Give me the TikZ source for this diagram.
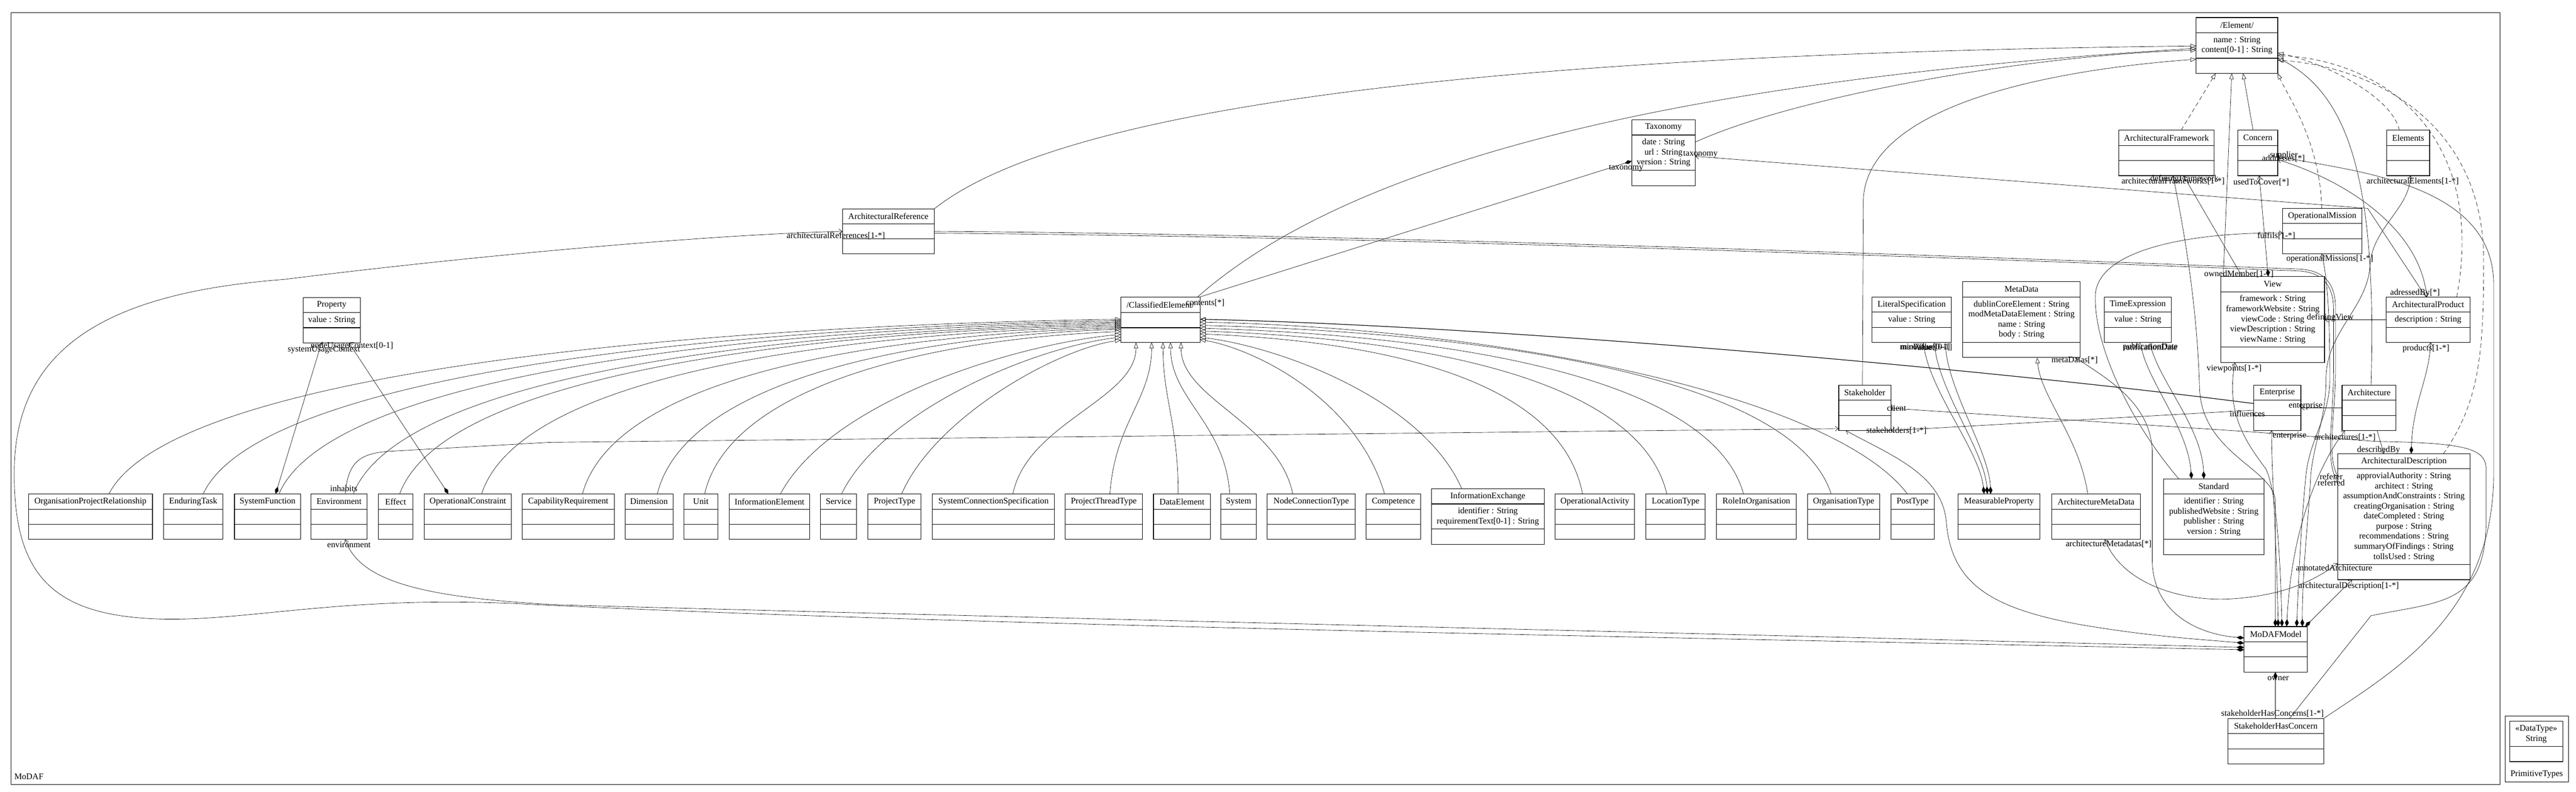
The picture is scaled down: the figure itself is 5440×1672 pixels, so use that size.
\documentclass[tikz,border=0pt]{standalone}
\usepackage{fontspec}
\setmainfont{Liberation Serif}
\usetikzlibrary{arrows.meta,calc,backgrounds}
\newcommand\clsfont{\fontsize{18.15}{21.3}\selectfont}
\tikzset{
  clsbox/.style={draw, fill=white, line width=1.2pt, inner sep=0pt, outer sep=0pt},
  cline/.style={line width=1.2pt},
  ctext/.style={font=\clsfont, inner sep=0pt, align=center},
  lbl/.style={font=\clsfont, inner sep=0pt},
  conn/.style={draw, line width=0.7pt},
  gen/.style={conn, -{Triangle[open, length=12pt, width=9pt]}},
  gend/.style={gen, dash pattern=on 9pt off 6pt},
  comp/.style={conn, {Diamond[length=16pt, width=8pt]}-},
  compnav/.style={conn, {Diamond[length=16pt, width=8pt]}-{Straight Barb[length=7pt, width=10pt]}},
  nav/.style={conn, -{Straight Barb[length=7pt, width=10pt]}},
  bnav/.style={conn, {Straight Barb[length=7pt, width=10pt]}-{Straight Barb[length=7pt, width=10pt]}},
}
\newcommand\umlclass[9]{%
  \pgfmathsetmacro\cw{#3-#2}\pgfmathsetmacro\ch{#7-#4}%
  \node[clsbox, anchor=north west, minimum width=\cw pt, minimum height=\ch pt] (#1) at (#2,#4) {};
  \draw[cline] (#2,#5) -- (#3,#5);
  \draw[cline] (#2,#6) -- (#3,#6);
  \node[ctext] (#1-t) at ({(#2+#3)/2},{(#4+#5)/2}) {#8};
  \node[ctext] (#1-a) at ({(#2+#3)/2},{(#5+#6)/2}) {#9};
}
\begin{document}
\begin{tikzpicture}[x=1pt,y=-1pt]
\useasboundingbox (0,0) rectangle (5440,1672);
\node[draw, line width=1.2pt, anchor=north west, minimum width=5256pt, minimum height=1629pt, inner sep=0pt, outer sep=0pt] (frame) at (23,27) {};
\node[lbl, anchor=west] (mlab) at (30,1640) {MoDAF};

% ---------- classes ----------
\umlclass{El}{4638}{4810}{37}{69}{123}{155}{/Element/}{name : String\\content[0-1] : String}
\umlclass{Tax}{3446}{3580}{253}{285}{360}{392}{Taxonomy}{date : String\\url : String\\version : String}
\umlclass{AF}{4474}{4676}{275}{307}{339}{371}{ArchitecturalFramework}{}
\umlclass{Con}{4726}{4810}{275}{307}{339}{371}{Concern}{}
\umlclass{Els}{5040}{5131}{275}{307}{339}{371}{Elements}{}
\umlclass{OM}{4820}{4988}{440}{472}{504}{536}{OperationalMission}{}
\umlclass{AR}{1779}{1973}{441}{473}{504}{536}{ArchitecturalReference}{}
\umlclass{View}{4690}{4909}{584}{616}{733}{765}{View}{framework : String\\frameworkWebsite : String\\viewCode : String\\viewDescription : String\\viewName : String}
\umlclass{MD}{4145}{4393}{595}{627}{723}{755}{MetaData}{dublinCoreElement : String\\modMetaDataElement : String\\name : String\\body : String}
\umlclass{LS}{3953}{4121}{627}{659}{691}{723}{LiteralSpecification}{value : String}
\umlclass{TE}{4444}{4585}{627}{659}{691}{723}{TimeExpression}{value : String}
\umlclass{AP}{5039}{5216}{627}{659}{691}{723}{ArchitecturalProduct}{description : String}
\umlclass{Prop}{640}{761}{628}{660}{692}{724}{Property}{value : String}
\umlclass{CE}{2367}{2534}{627}{660}{692}{723}{/ClassifiedElement/}{}
\umlclass{SH}{3883}{3993}{813}{845}{877}{909}{Stakeholder}{}
\umlclass{Ent}{4759}{4859}{813}{845}{877}{909}{Enterprise}{}
\umlclass{Arch}{4946}{5060}{813}{845}{877}{909}{Architecture}{}
\umlclass{AD}{4937}{5216}{958}{990}{1192}{1224}{ArchitecturalDescription}{approvialAuthority : String\\architect : String\\assumptionAndConstraints : String\\creatingOrganisation : String\\dateCompleted : String\\purpose : String\\recommendations : String\\summaryOfFindings : String\\tollsUsed : String}
\umlclass{Std}{4569}{4781}{1011}{1043}{1139}{1171}{Standard}{identifier : String\\publishedWebsite : String\\publisher : String\\version : String}
\umlclass{IX}{3023}{3261}{1032}{1064}{1117}{1149}{InformationExchange}{identifier : String\\requirementText[0-1] : String}
\umlclass{OPR}{60}{322}{1043}{1075}{1107}{1139}{OrganisationProjectRelationship}{}
\umlclass{ET}{345}{471}{1043}{1075}{1107}{1139}{EnduringTask}{}
\umlclass{SF}{495}{635}{1043}{1075}{1107}{1139}{SystemFunction}{}
\umlclass{Env}{657}{775}{1043}{1075}{1107}{1139}{Environment}{}
\umlclass{Eff}{799}{872}{1043}{1075}{1107}{1139}{Effect}{}
\umlclass{OC}{896}{1080}{1043}{1075}{1107}{1139}{OperationalConstraint}{}
\umlclass{CR}{1103}{1297}{1043}{1075}{1107}{1139}{CapabilityRequirement}{}
\umlclass{Dim}{1320}{1421}{1043}{1075}{1107}{1139}{Dimension}{}
\umlclass{Unit}{1444}{1516}{1043}{1075}{1107}{1139}{Unit}{}
\umlclass{IE}{1540}{1710}{1043}{1075}{1107}{1139}{InformationElement}{}
\umlclass{Svc}{1733}{1809}{1043}{1075}{1107}{1139}{Service}{}
\umlclass{PT}{1833}{1945}{1043}{1075}{1107}{1139}{ProjectType}{}
\umlclass{SCS}{1969}{2227}{1043}{1075}{1107}{1139}{SystemConnectionSpecification}{}
\umlclass{PTT}{2249}{2413}{1043}{1075}{1107}{1139}{ProjectThreadType}{}
\umlclass{DE}{2436}{2556}{1043}{1075}{1107}{1139}{DataElement}{}
\umlclass{Sys}{2578}{2653}{1043}{1075}{1107}{1139}{System}{}
\umlclass{NCT}{2676}{2862}{1043}{1075}{1107}{1139}{NodeConnectionType}{}
\umlclass{Comp}{2885}{3000}{1043}{1075}{1107}{1139}{Competence}{}
\umlclass{OA}{3284}{3452}{1043}{1075}{1107}{1139}{OperationalActivity}{}
\umlclass{LT}{3476}{3601}{1043}{1075}{1107}{1139}{LocationType}{}
\umlclass{RIO}{3625}{3793}{1043}{1075}{1107}{1139}{RoleInOrganisation}{}
\umlclass{OT}{3817}{3970}{1043}{1075}{1107}{1139}{OrganisationType}{}
\umlclass{Post}{3993}{4085}{1043}{1075}{1107}{1139}{PostType}{}
\umlclass{MP}{4135}{4308}{1043}{1075}{1107}{1139}{MeasurableProperty}{}
\umlclass{AMD}{4333}{4520}{1043}{1075}{1107}{1139}{ArchitectureMetaData}{}
\umlclass{MoD}{4739}{4873}{1323}{1355}{1387}{1419}{MoDAFModel}{}
\umlclass{SHC}{4705}{4907}{1517}{1549}{1581}{1613}{StakeholderHasConcern}{}

% PrimitiveTypes package
\node[clsbox, anchor=north west, minimum width=134pt, minimum height=139pt] (pkg) at (5290,1512) {};
\node[clsbox, anchor=north west, minimum width=112pt, minimum height=85pt] (str) at (5300,1523) {};
\draw[cline] (5300,1576) -- (5412,1576);
\node[ctext] (str-t) at (5356,1550) {«DataType»\\String};
\node[lbl] (pkg-t) at (5357,1635) {PrimitiveTypes};

% ---------- connectors ----------
\begin{pgfonlayer}{background}
% generalizations to ClassifiedElement (left side)
\draw[gen] ($(OPR.north west)+(170,0)$) .. controls +(128,-250) and +(-962,15) .. ($(CE.north west)+(0,47)$);
\draw[gen] ($(ET.north west)+(84,0)$) .. controls +(116,-250) and +(-872,15) .. ($(CE.north west)+(0,50)$);
\draw[gen] ($(SF.north west)+(94,0)$) .. controls +(107,-250) and +(-800,15) .. ($(CE.north west)+(0,53)$);
\draw[gen] ($(Env.north west)+(89,0)$) .. controls +(97,-250) and +(-729,15) .. ($(CE.north west)+(0,56)$);
\draw[gen] ($(Eff.north west)+(45,0)$) .. controls +(91,-250) and +(-685,15) .. ($(CE.north west)+(0,59)$);
\draw[gen] ($(OC.north west)+(121,0)$) .. controls +(81,-250) and +(-608,15) .. ($(CE.north west)+(0,62)$);
\draw[gen] ($(CR.north west)+(127,0)$) .. controls +(68,-250) and +(-512,15) .. ($(CE.north west)+(0,65)$);
\draw[gen] ($(Dim.north west)+(68,0)$) .. controls +(59,-240) and +(-440,15) .. ($(CE.north west)+(0,68)$);
\draw[gen] ($(Unit.north west)+(44,0)$) .. controls +(53,-230) and +(-396,15) .. ($(CE.north west)+(0,73)$);
\draw[gen] ($(IE.north west)+(108,0)$) .. controls +(108,-200) and +(-216,20) .. ($(CE.north west)+(0,79)$);
\draw[gen] ($(Svc.north west)+(44,0)$) .. controls +(89,-180) and +(-177,20) .. ($(CE.north west)+(0,85)$);
\draw[gen] ($(PT.north west)+(71,0)$) .. controls +(69,-160) and +(-139,20) .. ($(CE.north west)+(0,91)$);
% bottom
\draw[gen] ($(SCS.north west)+(170,0)$) .. controls +(30,-150) and +(0,120) .. ($(CE.south west)+(32,0)$);
\draw[gen] ($(PTT.north west)+(95,0)$) .. controls +(10,-150) and +(0,120) .. ($(CE.south west)+(65,0)$);
\draw[gen] ($(DE.north west)+(52,0)$) .. controls +(0,-150) and +(0,120) .. ($(CE.south west)+(89,0)$);
\draw[gen] ($(Sys.north west)+(19,0)$) .. controls +(-10,-150) and +(0,120) .. ($(CE.south west)+(105,0)$);
\draw[gen] ($(NCT.north west)+(54,0)$) .. controls +(-30,-150) and +(0,120) .. ($(CE.south west)+(127,0)$);
% right side
\draw[gen] ($(Comp.north west)+(39,0)$) .. controls +(-59,-200) and +(117,20) .. ($(CE.north east)+(0,90)$);
\draw[gen] ($(IX.north west)+(64,0)$) .. controls +(-83,-190) and +(166,20) .. ($(CE.north east)+(0,85)$);
\draw[gen] ($(OA.north west)+(58,0)$) .. controls +(-48,-250) and +(364,15) .. ($(CE.north east)+(0,78)$);
\draw[gen] ($(LT.north west)+(44,0)$) .. controls +(-59,-250) and +(444,15) .. ($(CE.north east)+(0,72)$);
\draw[gen] ($(RIO.north west)+(57,0)$) .. controls +(-69,-250) and +(517,15) .. ($(CE.north east)+(0,66)$);
\draw[gen] ($(OT.north west)+(50,0)$) .. controls +(-80,-250) and +(600,15) .. ($(CE.north east)+(0,60)$);
\draw[gen] ($(Post.north west)+(35,0)$) .. controls +(-150,-200) and +(672,15) .. ($(CE.north east)+(0,53)$);
\draw[gen, line width=1.3pt] ($(Ent.north west)+(0,39)$) .. controls (4200,780) and (3200,690) .. ($(CE.north east)+(0,47)$);

% generalizations to Element
\draw[gen] (AR.north east) .. controls (2300,180) and (3500,110) .. ($(El.north west)+(0,60)$);
\draw[gen] ($(CE.north east)+(-5,0)$) .. controls (2900,300) and (3700,160) .. ($(El.north west)+(0,65)$);
\draw[gen] ($(Tax.north east)+(0,47)$) .. controls (3800,200) and (4300,115) .. ($(El.north west)+(0,69)$);
\draw[gen] ($(SH.north west)+(50,0)$) -- (3935,420) .. controls (3945,230) and (4300,150) .. ($(El.north west)+(0,88)$);
\draw[gend] ($(AF.north west)+(132,0)$) -- ($(El.south west)+(41,0)$);
\draw[gen] ($(Con.north west)+(32,0)$) -- ($(El.south west)+(99,0)$);
\draw[gen] ($(View.north west)+(5,0)$) -- ($(El.south west)+(75,0)$);
\draw[gend] ($(OM.north west)+(83,0)$) .. controls (4900,300) and (4830,200) .. (El.south east);
\draw[gend] ($(Els.north west)+(27,0)$) .. controls (5050,200) and (4900,130) .. ($(El.north east)+(0,75)$);
\draw[gend] ($(AP.north east)+(-28,0)$) .. controls (5250,300) and (5050,130) .. ($(El.north east)+(0,80)$);
\draw[gen] ($(Arch.north west)+(61,0)$) .. controls (5020,380) and (4960,200) .. ($(El.north east)+(0,85)$);
\draw[gend] ($(AD.north east)+(-56,0)$) .. controls (5235,850) and (5245,750) .. (5245,550) .. controls (5245,250) and (5000,140) .. ($(El.north east)+(0,90)$);
\draw[gen] ($(AMD.north west)+(76,0)$) .. controls (4390,920) and (4310,840) .. ($(MD.south west)+(157,0)$);

% associations / compositions
\draw[comp] ($(Tax.north west)+(0,87)$) -- (CE.north east);
\draw[nav] ($(AP.north west)+(84,0)$) -- (5000,440) -- ($(Tax.north east)+(0,77)$);
\draw[bnav] ($(Con.north east)+(0,62)$) .. controls (4950,380) and (5110,480) .. ($(AP.north west)+(86,0)$);
\draw[nav] (SHC.north east) .. controls (5050,1420) and (5266,1300) .. (5266,1000) -- (5266,600) .. controls (5266,380) and (4950,360) .. ($(Con.north east)+(0,55)$);
\draw[nav] ($(SHC.north west)+(130,0)$) -- (5007,1300) .. controls (5150,1270) and (5250,1280) .. (5250,1100) -- (5250,990) .. controls (5250,945) and (5200,935) .. (5016,932) -- (4757,912) -- ($(SH.north east)+(0,49)$);
\draw[nav] (Arch.west) -- (Ent.east);
\draw[nav] ($(Ent.north west)+(0,53)$) -- (SH.south east);
\draw[nav] ($(Env.north west)+(72,0)$) .. controls (735,975) and (760,958) .. (820,953) -- (1160,934) -- ($(SH.south west)+(0,-4)$);
\draw[compnav] ($(SF.north west)+(87,0)$) -- ($(Prop.south west)+(39,0)$);
\draw[compnav] ($(OC.north west)+(51,0)$) -- ($(Prop.south west)+(97,0)$);
\draw[comp] ($(MP.north west)+(55,0)$) .. controls (4180,950) and (4070,820) .. ($(LS.south west)+(109,0)$);
\draw[comp] ($(MP.north west)+(62,0)$) .. controls (4190,950) and (4090,820) .. ($(LS.south west)+(132,0)$);
\draw[comp] ($(MP.north west)+(69,0)$) .. controls (4200,950) and (4110,820) .. ($(LS.south west)+(155,0)$);
\draw[comp] ($(Std.north west)+(59,0)$) .. controls (4620,900) and (4530,800) .. ($(TE.south west)+(76,0)$);
\draw[comp] ($(Std.north west)+(85,0)$) .. controls (4650,900) and (4555,800) .. ($(TE.south west)+(96,0)$);
\draw[nav] ($(Std.north west)+(32,0)$) .. controls (4490,880) and (4420,720) .. (4425,620) .. controls (4435,520) and (4650,490) .. ($(OM.north west)+(0,52)$);
\draw[bnav] ($(AMD.south west)+(112,0)$) .. controls (4480,1230) and (4600,1268) .. (4700,1265) .. controls (4820,1260) and (4890,1225) .. ($(AD.south west)+(0,-35)$);
\draw[nav] (AR.east) .. controls (3000,495) and (4500,555) .. (4853,568) .. controls (4900,570) and (4932,590) .. (4932,650) -- (4932,780) .. controls (4932,880) and (4912,960) .. ($(AD.north west)+(0,48)$);
\draw[nav] ($(AR.east)+(0,4)$) .. controls (3000,499) and (4500,559) .. (4853,572) .. controls (4896,574) and (4928,594) .. (4928,654) -- (4928,780) .. controls (4928,890) and (4908,970) .. ($(AD.north west)+(0,61)$);
\draw[compnav] ($(View.north west)+(100,0)$) -- ($(Con.south west)+(45,0)$);
\draw[nav] ($(View.north west)+(45,0)$) -- ($(AF.south west)+(137,0)$);
\draw[nav] (AP.west) -- (View.east |- AP.west);
\draw[compnav] ($(AD.north west)+(155,0)$) .. controls (5095,850) and (5130,800) .. ($(AP.south west)+(94,0)$);
\draw[nav] ($(Arch.south west)+(74,0)$) -- ($(AD.north west)+(97,0)$);

% MoDAFModel compositions
\draw[compnav] ($(MoD.north west)+(0,49)$) .. controls (3500,1345) and (2000,1320) .. (1100,1275) .. controls (700,1255) and (500,1320) .. (300,1305) .. controls (100,1290) and (30,1200) .. (30,1000) .. controls (30,750) and (200,620) .. (600,590) .. controls (1000,540) and (1500,495) .. (AR.west);
\draw[compnav] ($(MoD.north west)+(0,44)$) .. controls (3500,1335) and (2000,1300) .. (1177,1277) .. controls (900,1262) and (760,1230) .. ($(Env.south west)+(72,0)$);
\draw[compnav] ($(MoD.north west)+(0,35)$) .. controls (4650,1350) and (4550,1345) .. (4400,1320) .. controls (4200,1285) and (4120,1230) .. (4110,1100) .. controls (4100,1000) and (3990,960) .. ($(SH.south west)+(15,0)$);
\draw[compnav] ($(MoD.north west)+(0,24)$) .. controls (4650,1340) and (4545,1300) .. (4545,1180) -- (4545,950) .. controls (4540,850) and (4450,800) .. ($(MD.south east)+(-10,0)$);
\draw[compnav] ($(MoD.north west)+(72,0)$) .. controls (4808,1150) and (4797,1000) .. ($(Ent.south west)+(38,0)$);
\draw[compnav] ($(MoD.north west)+(90,0)$) .. controls (4840,1100) and (4905,970) .. ($(Arch.south west)+(6,0)$);
\draw[compnav] ($(MoD.north west)+(129,0)$) -- ($(AD.south west)+(30,0)$);
\draw[compnav] ($(MoD.north west)+(80,0)$) .. controls (4815,1150) and (4805,1030) .. (4785,990) .. controls (4740,930) and (4700,870) .. ($(View.south west)+(30,0)$);
\draw[compnav] ($(MoD.north west)+(111,0)$) .. controls (4855,1200) and (4860,1100) .. (4870,1000) .. controls (4880,920) and (4920,880) .. (4920,800) .. controls (4920,700) and (4918,600) .. ($(OM.south west)+(83,0)$);
\draw[compnav] ($(MoD.north west)+(66,0)$) -- (4805,1060) .. controls (4805,990) and (4650,960) .. (4645,820) .. controls (4640,650) and (4615,500) .. ($(AF.south west)+(115,0)$);
\draw[compnav] ($(MoD.north west)+(123,0)$) .. controls (4862,1200) and (4875,1100) .. (4880,1000) .. controls (4888,930) and (4912,880) .. (4912,800) .. controls (4912,700) and (5000,650) .. (5005,560) .. controls (5010,480) and (5090,440) .. ($(Els.south west)+(50,0)$);
\draw[comp] ($(MoD.south west)+(66,0)$) -- ($(SHC.north west)+(100,0)$);
\end{pgfonlayer}

% ---------- role labels ----------
\node[lbl] (L1) at (3591,326) {taxonomy};
\node[lbl] (L2) at (3434,355) {taxonomy};
\node[lbl] (L3) at (2545,640) {contents[*]};
\node[lbl] (L4) at (1765,498) {architecturalReferences[1-*]};
\node[lbl] (L5) at (743,731) {nodeUsageContext[0-1]};
\node[lbl] (L6) at (684,738) {systemUsageContext};
\node[lbl] (L7) at (726,1031) {inhabits};
\node[lbl] (L8) at (737,1150) {environment};
\node[lbl] (L9) at (4589,383) {architecturalFrameworks[1-*]};
\node[lbl] (L10) at (4613,378) {definingFramework};
\node[lbl] (L11) at (4823,328) {supplier};
\node[lbl] (L12) at (4822,335) {addresses[*]};
\node[lbl] (L13) at (4775,385) {usedToCover[*]};
\node[lbl] (L14) at (5095,383) {architecturalElements[1-*]};
\node[lbl] (L15) at (4807,498) {fulfils[1-*]};
\node[lbl] (L16) at (4920,547) {operationalMissions[1-*]};
\node[lbl] (L17) at (4728,579) {ownedMember[1-*]};
\node[lbl] (L18) at (4921,671) {definingView};
\node[lbl] (L19) at (4718,778) {viewpoints[1-*]};
\node[lbl] (L20) at (5100,619) {adressedBy[*]};
\node[lbl] (L21) at (5123,736) {products[1-*]};
\node[lbl] (L22) at (4381,760) {metaDatas[*]};
\node[lbl] (L23) at (4065,733) {minValue[0-1]};
\node[lbl] (L24) at (4068,733) {maxValue[0-1]};
\node[lbl] (L25) at (4060,733) {value};
\node[lbl] (L26) at (4541,733) {ratificationDate};
\node[lbl] (L27) at (4541,733) {publicationDate};
\node[lbl] (L28) at (4005,861) {client};
\node[lbl] (L29) at (4005,909) {stakeholders[1-*]};
\node[lbl] (L30) at (4746,873) {influences};
\node[lbl] (L31) at (4869,857) {enterprise};
\node[lbl] (L32) at (4835,920) {enterprise};
\node[lbl] (L33) at (4952,923) {architectures[1-*]};
\node[lbl] (L34) at (5023,950) {describedBy};
\node[lbl] (L35) at (4923,1006) {referer};
\node[lbl] (L36) at (4923,1019) {referred};
\node[lbl] (L37) at (4929,1199) {annotatedArchitecture};
\node[lbl] (L38) at (4960,1238) {architecturalDescription[1-*]};
\node[lbl] (L39) at (4453,1149) {architectureMetadatas[*]};
\node[lbl] (L40) at (4811,1432) {owner};
\node[lbl] (L41) at (4799,1507) {stakeholderHasConcerns[1-*]};
\end{tikzpicture}
\end{document}
